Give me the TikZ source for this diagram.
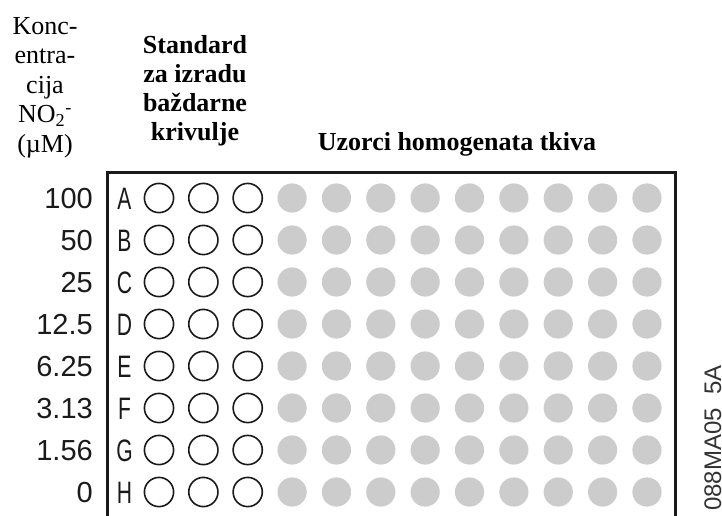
\documentclass[tikz,border=0pt]{standalone}
\usepackage{fontspec}
\setmainfont{Liberation Serif}
\newfontfamily\platesans{Liberation Sans}
\definecolor{wellgray}{HTML}{CCCCCC}
\definecolor{ink}{HTML}{1A1A1A}
\begin{document}
\begin{tikzpicture}[x=1pt,y=-1pt,
  heading/.style={font=\fontsize{26}{29.5}\selectfont, align=center, inner sep=0pt, anchor=base},
  conc/.style={font=\platesans\fontsize{29}{29}\selectfont, anchor=base east, inner sep=0pt, text=ink},
  rowletter/.style={font=\platesans\fontsize{31}{31}\selectfont, xscale=0.68, anchor=base, inner sep=0pt, text=ink},
  stdwell/.style={draw=ink, line width=1.6pt, fill=white},
  samplewell/.style={fill=wellgray},
  platebox/.style={draw=ink, line width=3pt, fill=white},
]
\useasboundingbox (0,0) rectangle (722,515);
\clip (0,0) rectangle (722,515);

% column headings (multi-line nodes are placed by the baseline of their last line)
\node[heading] (conchead) at (45,152) {Konc-\\entra-\\cija\\NO\textsubscript{2}\textsuperscript{-}\\(µM)};
\node[heading, font=\bfseries\fontsize{26}{29}\selectfont] (stdhead) at (195,140) {Standard\\za izradu\\baždarne\\krivulje};
\node[heading, font=\bfseries\fontsize{26}{29}\selectfont] (samplehead) at (457,150) {Uzorci homogenata tkiva};

% plate outline (open at the bottom)
\path[platebox] (107.5,540) -- (107.5,172) -- (675,172) -- (675,540);

% rows: concentration, row letter, three standard wells, nine sample wells
\foreach \r/\c [count=\i from 0] in {A/100,B/50,C/25,D/12.5,E/6.25,F/3.13,G/1.56,H/0}{
  \pgfmathsetmacro{\yy}{198+42*\i}
  \node[conc] (conc\r) at (93,\yy+10.5) {\c};
  \node[rowletter] (row\r) at (124.5,\yy+11.5) {\r};
  \foreach \j in {0,1,2}{
    \draw[stdwell] ({159+44.36*\j},\yy) circle[radius=14.6];
  }
  \foreach \j in {3,...,11}{
    \fill[samplewell] ({159+44.36*\j},\yy) circle[radius=14.6];
  }
}

% figure code along the right edge
\node[font=\platesans\fontsize{24}{24}\selectfont, text=black!80, rotate=90, anchor=base west, inner sep=0pt] (figcode) at (721,511) {088MA05\_5A};
\end{tikzpicture}
\end{document}
